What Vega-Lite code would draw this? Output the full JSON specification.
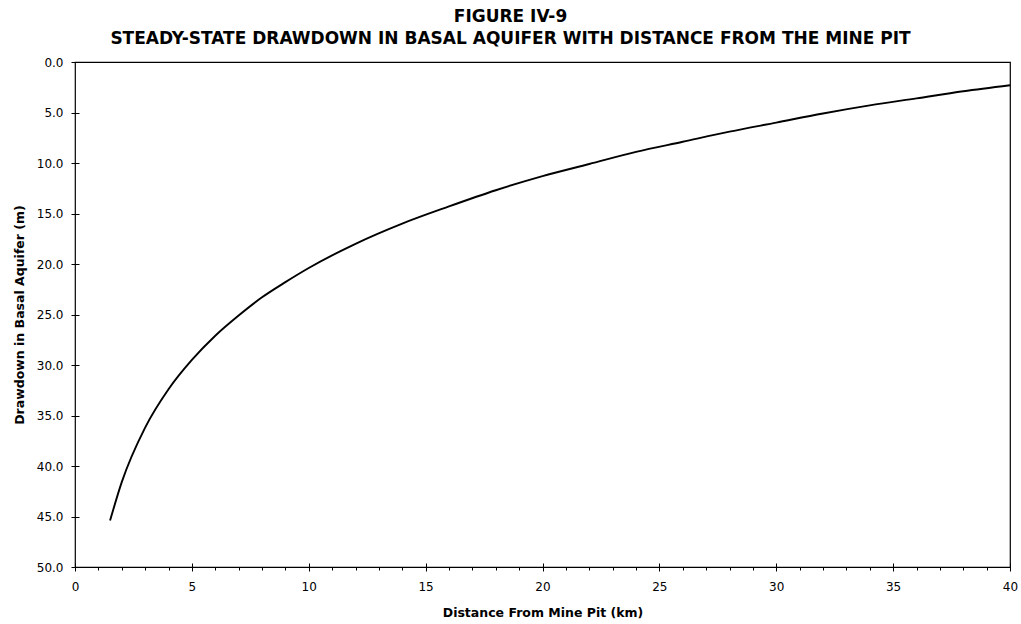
{
  "$schema": "https://vega.github.io/schema/vega-lite/v6.json",
  "autosize": "none",
  "width": 935,
  "height": 505,
  "padding": {"left": 75, "top": 62, "right": 11, "bottom": 57},
  "background": "white",
  "config": {
    "view": {"stroke": "black", "strokeWidth": 1.2},
    "axis": {"grid": false, "domain": false, "ticks": true, "tickColor": "black", "tickWidth": 1, "labelColor": "black", "titleColor": "black", "labelFont": "DejaVu Sans", "labelFontSize": 12, "titleFont": "DejaVu Sans", "titleFontSize": 12.5, "titleFontWeight": "bold", "labelFlush": false, "labelOverlap": false, "labelBound": false}
  },
  "title": {
    "text": ["FIGURE IV-9", "STEADY-STATE DRAWDOWN IN BASAL AQUIFER WITH DISTANCE FROM THE MINE PIT"],
    "font": "DejaVu Sans",
    "fontSize": 17,
    "fontWeight": "bold",
    "lineHeight": 22,
    "anchor": "middle",
    "dx": -32,
    "offset": 8,
    "color": "black"
  },
  "data": {
    "values": [
      {"distance_km": 1.5, "drawdown_m": 45.4},
      {"distance_km": 2, "drawdown_m": 41.6},
      {"distance_km": 3, "drawdown_m": 36.2},
      {"distance_km": 4, "drawdown_m": 32.4},
      {"distance_km": 5, "drawdown_m": 29.5},
      {"distance_km": 6, "drawdown_m": 27.1},
      {"distance_km": 7, "drawdown_m": 25.1},
      {"distance_km": 8, "drawdown_m": 23.3},
      {"distance_km": 9, "drawdown_m": 21.8},
      {"distance_km": 10, "drawdown_m": 20.4},
      {"distance_km": 12, "drawdown_m": 18.0},
      {"distance_km": 14, "drawdown_m": 16.0},
      {"distance_km": 16, "drawdown_m": 14.3},
      {"distance_km": 18, "drawdown_m": 12.7},
      {"distance_km": 20, "drawdown_m": 11.3},
      {"distance_km": 22, "drawdown_m": 10.1},
      {"distance_km": 24, "drawdown_m": 8.9},
      {"distance_km": 26, "drawdown_m": 7.9},
      {"distance_km": 28, "drawdown_m": 6.9},
      {"distance_km": 30, "drawdown_m": 6.0},
      {"distance_km": 32, "drawdown_m": 5.1},
      {"distance_km": 34, "drawdown_m": 4.3},
      {"distance_km": 36, "drawdown_m": 3.6},
      {"distance_km": 38, "drawdown_m": 2.9},
      {"distance_km": 40, "drawdown_m": 2.3}
    ]
  },
  "mark": {"type": "line", "color": "black", "strokeWidth": 1.9, "interpolate": "monotone"},
  "encoding": {
    "x": {
      "field": "distance_km",
      "type": "quantitative",
      "scale": {"domain": [0, 40], "nice": false, "zero": false},
      "axis": {
        "title": "Distance From Mine Pit (km)",
        "values": [0,1,2,3,4,5,6,7,8,9,10,11,12,13,14,15,16,17,18,19,20,21,22,23,24,25,26,27,28,29,30,31,32,33,34,35,36,37,38,39,40],
        "format": "d",
        "labelExpr": "datum.value % 5 === 0 ? datum.label : ''",
        "offset": -4,
        "tickSize": {"condition": {"test": "datum.value % 5 === 0", "value": 8}, "value": 7},
        "tickDash": {"condition": {"test": "datum.value % 5 === 0", "value": []}, "value": [0, 4, 3]},
        "labelPadding": 10,
        "titlePadding": 14
      }
    },
    "y": {
      "field": "drawdown_m",
      "type": "quantitative",
      "scale": {"domain": [0, 50], "reverse": true, "nice": false, "zero": false},
      "axis": {
        "title": "Drawdown in Basal Aquifer (m)",
        "values": [0, 5, 10, 15, 20, 25, 30, 35, 40, 45, 50],
        "format": ".1f",
        "offset": -4,
        "tickSize": 8,
        "labelPadding": 8,
        "titlePadding": 10
      }
    }
  }
}
